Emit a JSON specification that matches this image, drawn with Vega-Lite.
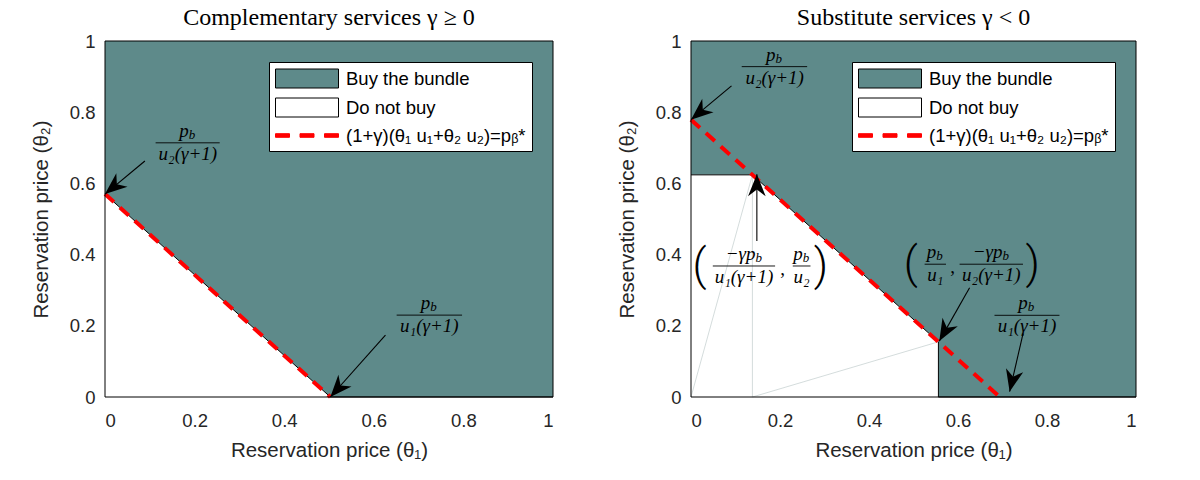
{
  "$schema": "https://vega.github.io/schema/vega-lite/v6.json",
  "padding": {"left": 31, "top": 6, "right": 5, "bottom": 5},
  "spacing": 62,
  "background": "white",
  "config": {
    "view": {"stroke": null},
    "axis": {
      "domain": false, "ticks": false, "grid": false,
      "labelFont": "Liberation Sans", "labelFontSize": 18.5, "labelColor": "#262626",
      "titleFont": "Liberation Sans", "titleFontSize": 20.5, "titleFontWeight": "normal", "titleColor": "#262626"
    },
    "axisX": {"labelPadding": 14, "titlePadding": 11},
    "axisY": {"labelPadding": 10, "titlePadding": 18},
    "title": {"font": "Liberation Serif", "fontSize": 24, "fontWeight": "normal", "color": "black", "offset": 2},
    "legend": {
      "orient": "top-right", "offset": 21, "fillColor": "white", "strokeColor": "black",
      "padding": 6, "labelFont": "Liberation Sans", "labelFontSize": 18.5, "labelColor": "black",
      "symbolSize": 400, "symbolStrokeWidth": 1, "symbolFillColor": "#ffffff", "symbolStrokeColor": "#000000",
      "labelOffset": 50, "rowPadding": 6, "labelLimit": 400
    }
  },
  "resolve": {"scale": {"fill": "independent", "stroke": "independent", "shape": "independent"}},
  "datasets": {
    "edge": [
      {"panel": "L", "x": 0, "y": 0.57},
      {"panel": "L", "x": 0.503, "y": 0},
      {"panel": "L", "x": 1, "y": 0},
      {"panel": "R", "x": 0, "y": 0.624},
      {"panel": "R", "x": 0.138, "y": 0.624},
      {"panel": "R", "x": 0.556, "y": 0.155},
      {"panel": "R", "x": 0.556, "y": 0},
      {"panel": "R", "x": 1, "y": 0}
    ],
    "threshold": [
      {"panel": "L", "x": 0, "y": 0.57},
      {"panel": "L", "x": 0.503, "y": 0},
      {"panel": "R", "x": 0, "y": 0.779},
      {"panel": "R", "x": 0.694, "y": 0}
    ],
    "guide": [
      {"panel": "R", "x": 0.138, "y": 0, "x2": 0.138, "y2": 0.624},
      {"panel": "R", "x": 0, "y": 0, "x2": 0.138, "y2": 0.624},
      {"panel": "R", "x": 0.138, "y": 0, "x2": 0.556, "y2": 0.155}
    ],
    "arrow": [
      {"panel": "L", "x": 0.089, "y": 0.663, "x2": 0, "y2": 0.57},
      {"panel": "L", "x": 0.626, "y": 0.174, "x2": 0.503, "y2": 0},
      {"panel": "R", "x": 0.091, "y": 0.874, "x2": 0, "y2": 0.779},
      {"panel": "R", "x": 0.148, "y": 0.438, "x2": 0.148, "y2": 0.626},
      {"panel": "R", "x": 0.626, "y": 0.307, "x2": 0.558, "y2": 0.157},
      {"panel": "R", "x": 0.746, "y": 0.177, "x2": 0.716, "y2": 0.015}
    ],
    "frac": [
      {"panel": "L", "xc": 0.185, "x1": 0.113, "x2": 0.256, "y": 0.714, "nx": 0.187, "num": "p", "den": "u₂(γ+1)"},
      {"panel": "L", "xc": 0.724, "x1": 0.651, "x2": 0.797, "y": 0.23, "nx": 0.726, "num": "p", "den": "u₁(γ+1)"},
      {"panel": "R", "xc": 0.188, "x1": 0.114, "x2": 0.261, "y": 0.928, "nx": 0.19, "num": "p", "den": "u₂(γ+1)"},
      {"panel": "R", "xc": 0.119, "x1": 0.049, "x2": 0.189, "y": 0.368, "nx": 0.145, "num": "−γp", "den": "u₁(γ+1)"},
      {"panel": "R", "xc": 0.2486, "x1": 0.2287, "x2": 0.2685, "y": 0.368, "nx": 0.251, "num": "p", "den": "u₂"},
      {"panel": "R", "xc": 0.549, "x1": 0.525, "x2": 0.573, "y": 0.373, "nx": 0.551, "num": "p", "den": "u₁"},
      {"panel": "R", "xc": 0.675, "x1": 0.6036, "x2": 0.746, "y": 0.373, "nx": 0.7, "num": "−γp", "den": "u₂(γ+1)"},
      {"panel": "R", "xc": 0.755, "x1": 0.682, "x2": 0.828, "y": 0.2295, "nx": 0.757, "num": "p", "den": "u₁(γ+1)"}
    ],
    "paren": [
      {"panel": "R", "x": 0.019, "y": 0.368, "t": "("},
      {"panel": "R", "x": 0.292, "y": 0.368, "t": ")"},
      {"panel": "R", "x": 0.494, "y": 0.373, "t": "("},
      {"panel": "R", "x": 0.768, "y": 0.373, "t": ")"}
    ],
    "comma": [
      {"panel": "R", "x": 0.206, "y": 0.368},
      {"panel": "R", "x": 0.588, "y": 0.373}
    ],
    "keys": [
      {"key": "Buy the bundle"},
      {"key": "Do not buy"},
      {"key": "(1+γ)(θ₁ u₁+θ₂ u₂)=pᵦ*"}
    ]
  },
  "hconcat": [
    {
      "width": 448, "height": 356,
      "title": "Complementary services γ ≥ 0",
      "layer": [
        {
          "data": {"name": "edge"},
          "transform": [{"filter": "datum.panel === 'L'"}],
          "mark": {"type": "area", "color": "#5e8a8a"},
          "encoding": {
            "x": {"field": "x", "type": "quantitative", "scale": {"domain": [0, 1], "nice": false},
                  "axis": {"values": [0, 0.2, 0.4, 0.6, 0.8, 1], "format": "~g", "title": "Reservation price (θ₁)"}},
            "y": {"field": "y", "type": "quantitative", "scale": {"domain": [0, 1], "nice": false},
                  "axis": {"values": [0, 0.2, 0.4, 0.6, 0.8, 1], "format": "~g", "title": "Reservation price (θ₂)"}},
            "y2": {"datum": 1}
          }
        },
        {
          "data": {"name": "edge"},
          "transform": [{"filter": "datum.panel === 'L'"}],
          "mark": {"type": "area", "color": "white"},
          "encoding": {
            "x": {"field": "x", "type": "quantitative"},
            "y": {"field": "y", "type": "quantitative"},
            "y2": {"datum": 0}
          }
        },
        {
          "data": {"name": "edge"},
          "transform": [{"filter": "datum.panel === 'L'"}],
          "mark": {"type": "line", "color": "black", "strokeWidth": 1},
          "encoding": {
            "x": {"field": "x", "type": "quantitative"},
            "y": {"field": "y", "type": "quantitative"}
          }
        },
        {
          "data": {"name": "threshold"},
          "transform": [{"filter": "datum.panel === 'L'"}],
          "mark": {"type": "line", "color": "#ff0000", "strokeWidth": 4, "strokeDash": [12, 8]},
          "encoding": {
            "x": {"field": "x", "type": "quantitative"},
            "y": {"field": "y", "type": "quantitative"}
          }
        },
        {
          "data": {"name": "arrow"},
          "transform": [{"filter": "datum.panel === 'L'"}],
          "mark": {"type": "rule", "color": "black", "strokeWidth": 1.1},
          "encoding": {
            "x": {"field": "x", "type": "quantitative"},
            "y": {"field": "y", "type": "quantitative"},
            "x2": {"field": "x2"},
            "y2": {"field": "y2"}
          }
        },
        {
          "data": {"name": "arrow"},
          "transform": [
            {"filter": "datum.panel === 'L'"},
            {"calculate": "atan2((datum.x2 - datum.x) * 448, (datum.y2 - datum.y) * 356) * 180 / PI", "as": "heading"}
          ],
          "mark": {"type": "point", "shape": "M0,0L0.8,2L0,1.4L-0.8,2Z", "size": 484, "filled": true, "color": "black", "opacity": 1},
          "encoding": {
            "x": {"field": "x2", "type": "quantitative"},
            "y": {"field": "y2", "type": "quantitative"},
            "angle": {"field": "heading", "type": "quantitative", "scale": null}
          }
        },
        {
          "data": {"name": "frac"},
          "transform": [{"filter": "datum.panel === 'L'"}],
          "mark": {"type": "rule", "color": "black", "strokeWidth": 0.9},
          "encoding": {
            "x": {"field": "x1", "type": "quantitative"},
            "x2": {"field": "x2"},
            "y": {"field": "y", "type": "quantitative"}
          }
        },
        {
          "data": {"name": "frac"},
          "transform": [{"filter": "datum.panel === 'L'"}],
          "mark": {"type": "text", "font": "Liberation Serif", "fontStyle": "italic", "fontSize": 19, "align": "right", "baseline": "alphabetic", "dy": -6, "color": "black"},
          "encoding": {
            "x": {"field": "nx", "type": "quantitative"},
            "y": {"field": "y", "type": "quantitative"},
            "text": {"field": "num"}
          }
        },
        {
          "data": {"name": "frac"},
          "transform": [{"filter": "datum.panel === 'L'"}],
          "mark": {"type": "text", "font": "Liberation Serif", "fontStyle": "italic", "fontSize": 13, "align": "left", "baseline": "alphabetic", "dy": -4, "color": "black"},
          "encoding": {
            "x": {"field": "nx", "type": "quantitative"},
            "y": {"field": "y", "type": "quantitative"},
            "text": {"value": "b"}
          }
        },
        {
          "data": {"name": "frac"},
          "transform": [{"filter": "datum.panel === 'L'"}],
          "mark": {"type": "text", "font": "Liberation Serif", "fontStyle": "italic", "fontSize": 19, "align": "center", "baseline": "top", "dy": 2, "color": "black"},
          "encoding": {
            "x": {"field": "xc", "type": "quantitative"},
            "y": {"field": "y", "type": "quantitative"},
            "text": {"field": "den"}
          }
        },
        {
          "data": {"values": [{}]},
          "mark": {"type": "rect", "fill": null, "stroke": "black", "strokeWidth": 1},
          "encoding": {
            "x": {"datum": 0, "type": "quantitative"},
            "x2": {"datum": 1},
            "y": {"datum": 0, "type": "quantitative"},
            "y2": {"datum": 1}
          }
        },
        {
          "data": {"name": "keys"},
          "mark": {"type": "point", "filled": true, "opacity": 0},
          "encoding": {
            "fill": {"field": "key", "type": "nominal", "legend": {"title": null},
                     "scale": {"domain": ["Buy the bundle", "Do not buy", "(1+γ)(θ₁ u₁+θ₂ u₂)=pᵦ*"], "range": ["#5e8a8a", "#ffffff", "#ff0000"]}},
            "stroke": {"field": "key", "type": "nominal", "legend": {"title": null},
                       "scale": {"domain": ["Buy the bundle", "Do not buy", "(1+γ)(θ₁ u₁+θ₂ u₂)=pᵦ*"], "range": ["#000000", "#000000", "#ff0000"]}},
            "shape": {"field": "key", "type": "nominal", "legend": {"title": null},
                      "scale": {"domain": ["Buy the bundle", "Do not buy", "(1+γ)(θ₁ u₁+θ₂ u₂)=pᵦ*"],
                                "range": ["M-1,-0.95H5.3V0.95H-1Z", "M-1,-0.95H5.3V0.95H-1Z", "M-1,-0.18H0.4V0.18H-1Z M1.45,-0.18H2.85V0.18H1.45Z M3.9,-0.18H5.3V0.18H3.9Z"]}}
          }
        }
      ]
    },
    {
      "width": 445, "height": 356,
      "title": "Substitute services γ < 0",
      "layer": [
        {
          "data": {"name": "edge"},
          "transform": [{"filter": "datum.panel === 'R'"}],
          "mark": {"type": "area", "color": "#5e8a8a"},
          "encoding": {
            "x": {"field": "x", "type": "quantitative", "scale": {"domain": [0, 1], "nice": false},
                  "axis": {"values": [0, 0.2, 0.4, 0.6, 0.8, 1], "format": "~g", "title": "Reservation price (θ₁)"}},
            "y": {"field": "y", "type": "quantitative", "scale": {"domain": [0, 1], "nice": false},
                  "axis": {"values": [0, 0.2, 0.4, 0.6, 0.8, 1], "format": "~g", "title": "Reservation price (θ₂)"}},
            "y2": {"datum": 1}
          }
        },
        {
          "data": {"name": "edge"},
          "transform": [{"filter": "datum.panel === 'R'"}],
          "mark": {"type": "area", "color": "white"},
          "encoding": {
            "x": {"field": "x", "type": "quantitative"},
            "y": {"field": "y", "type": "quantitative"},
            "y2": {"datum": 0}
          }
        },
        {
          "data": {"name": "guide"},
          "transform": [{"filter": "datum.panel === 'R'"}],
          "mark": {"type": "rule", "color": "#c9d3d3", "strokeWidth": 0.8},
          "encoding": {
            "x": {"field": "x", "type": "quantitative"},
            "y": {"field": "y", "type": "quantitative"},
            "x2": {"field": "x2"},
            "y2": {"field": "y2"}
          }
        },
        {
          "data": {"name": "edge"},
          "transform": [{"filter": "datum.panel === 'R'"}],
          "mark": {"type": "line", "color": "black", "strokeWidth": 1},
          "encoding": {
            "x": {"field": "x", "type": "quantitative"},
            "y": {"field": "y", "type": "quantitative"}
          }
        },
        {
          "data": {"name": "threshold"},
          "transform": [{"filter": "datum.panel === 'R'"}],
          "mark": {"type": "line", "color": "#ff0000", "strokeWidth": 4, "strokeDash": [12, 8]},
          "encoding": {
            "x": {"field": "x", "type": "quantitative"},
            "y": {"field": "y", "type": "quantitative"}
          }
        },
        {
          "data": {"name": "arrow"},
          "transform": [{"filter": "datum.panel === 'R'"}],
          "mark": {"type": "rule", "color": "black", "strokeWidth": 1.1},
          "encoding": {
            "x": {"field": "x", "type": "quantitative"},
            "y": {"field": "y", "type": "quantitative"},
            "x2": {"field": "x2"},
            "y2": {"field": "y2"}
          }
        },
        {
          "data": {"name": "arrow"},
          "transform": [
            {"filter": "datum.panel === 'R'"},
            {"calculate": "atan2((datum.x2 - datum.x) * 445, (datum.y2 - datum.y) * 356) * 180 / PI", "as": "heading"}
          ],
          "mark": {"type": "point", "shape": "M0,0L0.8,2L0,1.4L-0.8,2Z", "size": 484, "filled": true, "color": "black", "opacity": 1},
          "encoding": {
            "x": {"field": "x2", "type": "quantitative"},
            "y": {"field": "y2", "type": "quantitative"},
            "angle": {"field": "heading", "type": "quantitative", "scale": null}
          }
        },
        {
          "data": {"name": "frac"},
          "transform": [{"filter": "datum.panel === 'R'"}],
          "mark": {"type": "rule", "color": "black", "strokeWidth": 0.9},
          "encoding": {
            "x": {"field": "x1", "type": "quantitative"},
            "x2": {"field": "x2"},
            "y": {"field": "y", "type": "quantitative"}
          }
        },
        {
          "data": {"name": "frac"},
          "transform": [{"filter": "datum.panel === 'R'"}],
          "mark": {"type": "text", "font": "Liberation Serif", "fontStyle": "italic", "fontSize": 19, "align": "right", "baseline": "alphabetic", "dy": -6, "color": "black"},
          "encoding": {
            "x": {"field": "nx", "type": "quantitative"},
            "y": {"field": "y", "type": "quantitative"},
            "text": {"field": "num"}
          }
        },
        {
          "data": {"name": "frac"},
          "transform": [{"filter": "datum.panel === 'R'"}],
          "mark": {"type": "text", "font": "Liberation Serif", "fontStyle": "italic", "fontSize": 13, "align": "left", "baseline": "alphabetic", "dy": -4, "color": "black"},
          "encoding": {
            "x": {"field": "nx", "type": "quantitative"},
            "y": {"field": "y", "type": "quantitative"},
            "text": {"value": "b"}
          }
        },
        {
          "data": {"name": "frac"},
          "transform": [{"filter": "datum.panel === 'R'"}],
          "mark": {"type": "text", "font": "Liberation Serif", "fontStyle": "italic", "fontSize": 19, "align": "center", "baseline": "top", "dy": 2, "color": "black"},
          "encoding": {
            "x": {"field": "xc", "type": "quantitative"},
            "y": {"field": "y", "type": "quantitative"},
            "text": {"field": "den"}
          }
        },
        {
          "data": {"name": "paren"},
          "transform": [{"filter": "datum.panel === 'R'"}],
          "mark": {"type": "text", "font": "Roboto", "fontWeight": 300, "fontSize": 44, "align": "center", "baseline": "middle", "dy": 1, "color": "black"},
          "encoding": {
            "x": {"field": "x", "type": "quantitative"},
            "y": {"field": "y", "type": "quantitative"},
            "text": {"field": "t"}
          }
        },
        {
          "data": {"name": "comma"},
          "transform": [{"filter": "datum.panel === 'R'"}],
          "mark": {"type": "text", "font": "Liberation Serif", "fontSize": 19, "align": "center", "baseline": "alphabetic", "dy": 9, "color": "black"},
          "encoding": {
            "x": {"field": "x", "type": "quantitative"},
            "y": {"field": "y", "type": "quantitative"},
            "text": {"value": ","}
          }
        },
        {
          "data": {"values": [{}]},
          "mark": {"type": "rect", "fill": null, "stroke": "black", "strokeWidth": 1},
          "encoding": {
            "x": {"datum": 0, "type": "quantitative"},
            "x2": {"datum": 1},
            "y": {"datum": 0, "type": "quantitative"},
            "y2": {"datum": 1}
          }
        },
        {
          "data": {"name": "keys"},
          "mark": {"type": "point", "filled": true, "opacity": 0},
          "encoding": {
            "fill": {"field": "key", "type": "nominal", "legend": {"title": null},
                     "scale": {"domain": ["Buy the bundle", "Do not buy", "(1+γ)(θ₁ u₁+θ₂ u₂)=pᵦ*"], "range": ["#5e8a8a", "#ffffff", "#ff0000"]}},
            "stroke": {"field": "key", "type": "nominal", "legend": {"title": null},
                       "scale": {"domain": ["Buy the bundle", "Do not buy", "(1+γ)(θ₁ u₁+θ₂ u₂)=pᵦ*"], "range": ["#000000", "#000000", "#ff0000"]}},
            "shape": {"field": "key", "type": "nominal", "legend": {"title": null},
                      "scale": {"domain": ["Buy the bundle", "Do not buy", "(1+γ)(θ₁ u₁+θ₂ u₂)=pᵦ*"],
                                "range": ["M-1,-0.95H5.3V0.95H-1Z", "M-1,-0.95H5.3V0.95H-1Z", "M-1,-0.18H0.4V0.18H-1Z M1.45,-0.18H2.85V0.18H1.45Z M3.9,-0.18H5.3V0.18H3.9Z"]}}
          }
        }
      ]
    }
  ]
}
